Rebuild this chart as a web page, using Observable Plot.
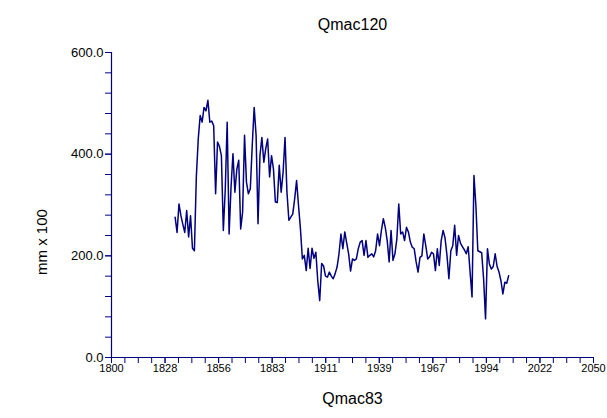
<!DOCTYPE html>
<html>
<head>
<meta charset="utf-8">
<script src="https://cdn.jsdelivr.net/npm/d3@7"></script>
<script src="https://cdn.jsdelivr.net/npm/@observablehq/plot@0.6"></script>
<style>
  html, body { margin: 0; padding: 0; background: white; }
</style>
</head>
<body>
<div id="chart"></div>
<script>
const years = [
  1833,1834,1835,1836,1837,1838,1839,1840,1841,1842,1843,1844,1845,1846,1847,1848,1849,
  1850,1851,1852,1853,1854,1855,1856,1857,1858,1859,1860,1861,1862,1863,1864,1865,1866,
  1867,1868,1869,1870,1871,1872,1873,1874,1875,1876,1877,1878,1879,1880,1881,1882,1883,
  1884,1885,1886,1887,1888,1889,1890,1891,1892,1893,1894,1895,1896,1897,1898,1899,1900,
  1901,1902,1903,1904,1905,1906,1907,1908,1909,1910,1911,1912,1913,1914,1915,1916,1917,
  1918,1919,1920,1921,1922,1923,1924,1925,1926,1927,1928,1929,1930,1931,1932,1933,1934,
  1935,1936,1937,1938,1939,1940,1941,1942,1943,1944,1945,1946,1947,1948,1949,1950,1951,
  1952,1953,1954,1955,1956,1957,1958,1959,1960,1961,1962,1963,1964,1965,1966,1967,1968,
  1969,1970,1971,1972,1973,1974,1975,1976,1977,1978,1979,1980,1981,1982,1983,1984,1985,
  1986,1987,1988,1989,1990,1991,1992,1993,1994,1995,1996,1997,1998,1999,2000,2001,2002,
  2003,2004,2005,2006
];
const values = [
  276,246,302,279,262,246,289,237,279,215,210,355,430,476,463,492,485,
  506,463,465,456,322,424,415,397,250,330,463,243,335,401,325,370,388,
  253,286,437,345,322,332,417,492,437,263,397,433,384,411,430,355,397,
  371,306,305,378,325,364,433,325,270,276,282,312,348,299,253,194,201,
  171,215,175,215,195,207,150,112,185,180,160,158,168,160,155,165,178,
  204,243,214,247,225,204,170,194,191,194,214,227,230,201,230,197,201,
  204,198,210,243,220,250,273,256,230,188,250,191,204,233,302,243,247,
  230,256,247,227,217,214,188,168,197,200,243,220,194,198,207,204,171,
  214,181,230,250,235,201,155,210,220,260,201,240,225,218,212,204,218,
  168,119,358,299,210,208,206,155,76,214,184,174,179,204,179,168,151,
  125,148,146,161
];
const xTickValues = [1800, 1827.78, 1855.56, 1883.33, 1911.11, 1938.89, 1966.67, 1994.44, 2022.22, 2050];
const xTickLabels = ["1800","1828","1856","1883","1911","1939","1967","1994","2022","2050"];
const yTickValues = [0, 200, 400, 600];
const yTickLabels = ["0.0","200.0","400.0","600.0"];
const titleText = "Qmac120";
const xLabelText = "Qmac83";
const yLabelText = "mm x 100";

const data = years.map((y, i) => ({year: y, value: values[i]}));
const navy = "#000080";
const xMinor = d3.range(0, 37).map(i => 1800 + i * 250 / 36);
const yMinor = d3.range(0, 601, 40);

const chart = Plot.plot({
  width: 607,
  height: 418,
  marginLeft: 111,
  marginRight: 14,
  marginTop: 52,
  marginBottom: 61,
  x: {domain: [1800, 2050], label: null},
  y: {domain: [0, 600], label: null},
  style: {fontFamily: "'Liberation Sans', Arial, sans-serif", fontSize: "11px", color: "black", background: "white"},
  marks: [
    Plot.axisX({ticks: xMinor, tickSize: 6, stroke: navy, tickFormat: () => "", label: null}),
    Plot.axisX({ticks: xTickValues, tickSize: 6, stroke: navy, tickPadding: 1,
      tickFormat: d => xTickLabels[xTickValues.indexOf(d)], label: null, fill: "black", fontSize: 11}),
    Plot.axisY({ticks: yMinor, tickSize: 6, stroke: navy, tickFormat: () => "", label: null}),
    Plot.axisY({ticks: yTickValues, tickSize: 6, stroke: navy, tickPadding: 2,
      tickFormat: d => yTickLabels[yTickValues.indexOf(d)], label: null, fill: "black", fontSize: 13}),
    Plot.ruleY([0], {stroke: navy, strokeWidth: 1.2}),
    Plot.ruleX([1800], {stroke: navy, strokeWidth: 1.2}),
    Plot.line(data, {x: "year", y: "value", stroke: navy, strokeWidth: 1.5}),
    Plot.text([titleText], {frameAnchor: "top", dy: -34, fontSize: 16, fill: "black"}),
    Plot.text([xLabelText], {frameAnchor: "bottom", dy: 46, fontSize: 16, fill: "black"}),
    Plot.text([yLabelText], {frameAnchor: "left", dx: -69, dy: 70, rotate: -90, fontSize: 15, fill: "black"})
  ]
});
document.getElementById("chart").appendChild(chart);
</script>
</body>
</html>
